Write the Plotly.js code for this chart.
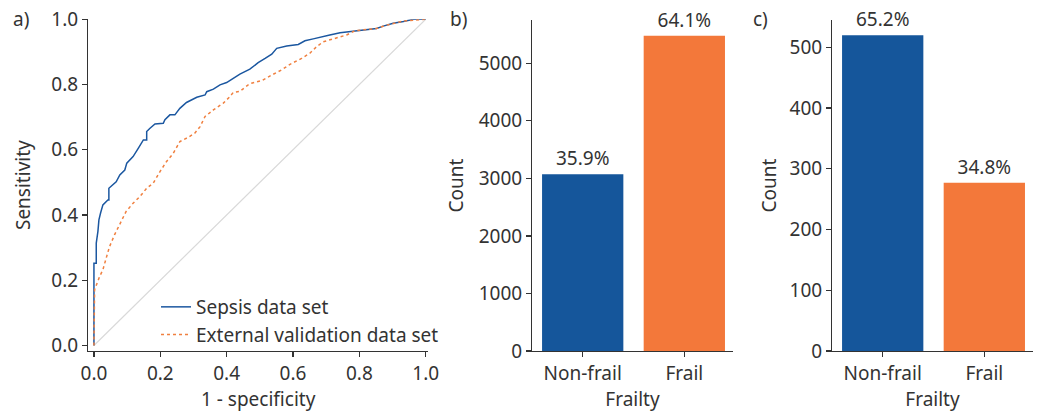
<!DOCTYPE html>
<html>
<head>
<meta charset="utf-8">
<script src="https://cdn.plot.ly/plotly-3.0.1.min.js"></script>
<style>html,body{margin:0;padding:0;background:#fff;}#chart{width:1042px;height:412px;}</style>
</head>
<body>
<div id="chart"></div>
<script>
// ROC curve, sepsis data set (1 - specificity, sensitivity)
const sepsisFPR = [0,0,0.007,0.007,0.012,0.015,0.020,0.027,0.042,0.045,0.045,0.067,0.078,0.093,0.099,0.118,0.134,0.149,0.159,0.159,0.169,0.184,0.209,0.214,0.229,0.244,0.259,0.279,0.310,0.335,0.340,0.360,0.380,0.400,0.420,0.440,0.470,0.495,0.516,0.536,0.551,0.581,0.616,0.636,0.661,0.686,0.711,0.742,0.782,0.822,0.852,0.872,0.902,0.933,0.963,1.0];
const sepsisTPR = [0,0.252,0.252,0.314,0.350,0.385,0.406,0.431,0.446,0.446,0.482,0.502,0.523,0.538,0.559,0.579,0.605,0.630,0.630,0.656,0.666,0.679,0.681,0.692,0.707,0.707,0.727,0.745,0.761,0.768,0.778,0.786,0.799,0.806,0.819,0.832,0.847,0.867,0.880,0.893,0.911,0.918,0.923,0.934,0.940,0.945,0.952,0.959,0.964,0.969,0.972,0.979,0.988,0.993,1.0,1.0];
// ROC curve, external validation data set
const externalFPR = [0,0.002,0.017,0.027,0.037,0.047,0.062,0.077,0.097,0.118,0.139,0.159,0.179,0.199,0.219,0.239,0.259,0.284,0.304,0.320,0.335,0.360,0.390,0.410,0.420,0.440,0.465,0.475,0.506,0.536,0.566,0.591,0.626,0.651,0.671,0.691,0.732,0.762,0.787,0.822,0.852,0.882,0.933,1.0];
const externalTPR = [0,0.171,0.211,0.232,0.268,0.303,0.339,0.370,0.411,0.436,0.457,0.482,0.498,0.533,0.564,0.589,0.625,0.638,0.651,0.671,0.702,0.722,0.743,0.763,0.776,0.779,0.799,0.804,0.812,0.829,0.845,0.862,0.880,0.896,0.916,0.931,0.942,0.952,0.965,0.969,0.972,0.982,0.995,1.0];
const chanceLine = [0, 1];

// Frailty counts
const frailtyCategories = ['Non-frail', 'Frail'];
const sepsisCounts = [3070, 5480];
const sepsisPctLabels = ['35.9%', '64.1%'];
const validationCounts = [520, 277];
const validationPctLabels = ['65.2%', '34.8%'];

const BLUE = '#15569b';
const ORANGE = '#f3783a';
const INK = '#333333';
const FONT = 'Noto Sans, sans-serif';
const FS = 19;
const W = 1042, H = 412;
const px = v => v / W;
const py = v => 1 - v / H;

const axisBase = {
  showline: true, linecolor: INK, linewidth: 1.3,
  ticks: 'outside', ticklen: 5, tickwidth: 1.3, tickcolor: INK,
  showgrid: false, zeroline: false,
  tickfont: {family: FONT, size: FS, color: INK},
  fixedrange: true
};
const titleFont = {family: FONT, size: FS, color: INK};

const traces = [
  {x: chanceLine, y: chanceLine, xaxis: 'x', yaxis: 'y', mode: 'lines',
   line: {color: '#d9d9d9', width: 1.2}, showlegend: false, hoverinfo: 'skip'},
  {x: sepsisFPR, y: sepsisTPR, xaxis: 'x', yaxis: 'y', mode: 'lines',
   name: 'Sepsis data set', line: {color: '#1b57a0', width: 1.5}},
  {x: externalFPR, y: externalTPR, xaxis: 'x', yaxis: 'y', mode: 'lines',
   name: 'External validation data set', line: {color: '#f08040', width: 1.5, dash: 'dot'}},
  {x: frailtyCategories, y: sepsisCounts, xaxis: 'x2', yaxis: 'y2', type: 'bar',
   marker: {color: [BLUE, ORANGE]}, width: 0.8, showlegend: false,
   text: sepsisPctLabels, textposition: 'outside', cliponaxis: false,
   textfont: {family: FONT, size: FS, color: INK}},
  {x: frailtyCategories, y: validationCounts, xaxis: 'x3', yaxis: 'y3', type: 'bar',
   marker: {color: [BLUE, ORANGE]}, width: 0.8, showlegend: false,
   text: validationPctLabels, textposition: 'outside', cliponaxis: false,
   textfont: {family: FONT, size: FS, color: INK}}
];

const layout = {
  width: W, height: H,
  margin: {l: 0, r: 0, t: 0, b: 0},
  paper_bgcolor: '#fff', plot_bgcolor: '#fff',
  font: {family: FONT, size: FS, color: INK},
  showlegend: true,
  legend: {x: px(156), y: py(288), xanchor: 'left', yanchor: 'top',
           bgcolor: 'rgba(0,0,0,0)', font: {family: FONT, size: FS, color: INK},
           tracegroupgap: 0},
  xaxis: Object.assign({}, axisBase, {domain: [px(88.3), px(428)], range: [-0.017, 1.007],
    tickvals: [0, 0.2, 0.4, 0.6, 0.8, 1.0], tickformat: '.1f', anchor: 'y',
    title: {text: '1 - specificity', font: titleFont, standoff: 3}}),
  yaxis: Object.assign({}, axisBase, {domain: [py(351), py(19.3)], range: [-0.017, 1.0],
    tickvals: [0, 0.2, 0.4, 0.6, 0.8, 1.0], tickformat: '.1f', anchor: 'x',
    title: {text: 'Sensitivity', font: titleFont, standoff: 15}}),
  xaxis2: Object.assign({}, axisBase, {domain: [px(532.3), px(732.7)], range: [-0.496, 1.476],
    type: 'category', anchor: 'y2',
    title: {text: 'Frailty', font: titleFont, standoff: 3}}),
  yaxis2: Object.assign({}, axisBase, {domain: [py(351), py(20)], range: [0, 5752],
    dtick: 1000, tickformat: 'd', anchor: 'x2',
    title: {text: 'Count', font: titleFont, standoff: 10}}),
  xaxis3: Object.assign({}, axisBase, {domain: [px(832.3), px(1032.7)], range: [-0.496, 1.476],
    type: 'category', anchor: 'y3',
    title: {text: 'Frailty', font: titleFont, standoff: 3}}),
  yaxis3: Object.assign({}, axisBase, {domain: [py(351), py(20)], range: [0, 545],
    dtick: 100, tickformat: 'd', anchor: 'x3',
    title: {text: 'Count', font: titleFont, standoff: 8}}),
  annotations: [
    {text: 'a)', xref: 'paper', yref: 'paper', x: px(21), y: py(19), xanchor: 'center', yanchor: 'middle', showarrow: false, font: titleFont},
    {text: 'b)', xref: 'paper', yref: 'paper', x: px(458), y: py(19), xanchor: 'center', yanchor: 'middle', showarrow: false, font: titleFont},
    {text: 'c)', xref: 'paper', yref: 'paper', x: px(760), y: py(19), xanchor: 'center', yanchor: 'middle', showarrow: false, font: titleFont}
  ]
};

Plotly.newPlot('chart', traces, layout, {displayModeBar: false, staticPlot: true});
</script>
</body>
</html>
